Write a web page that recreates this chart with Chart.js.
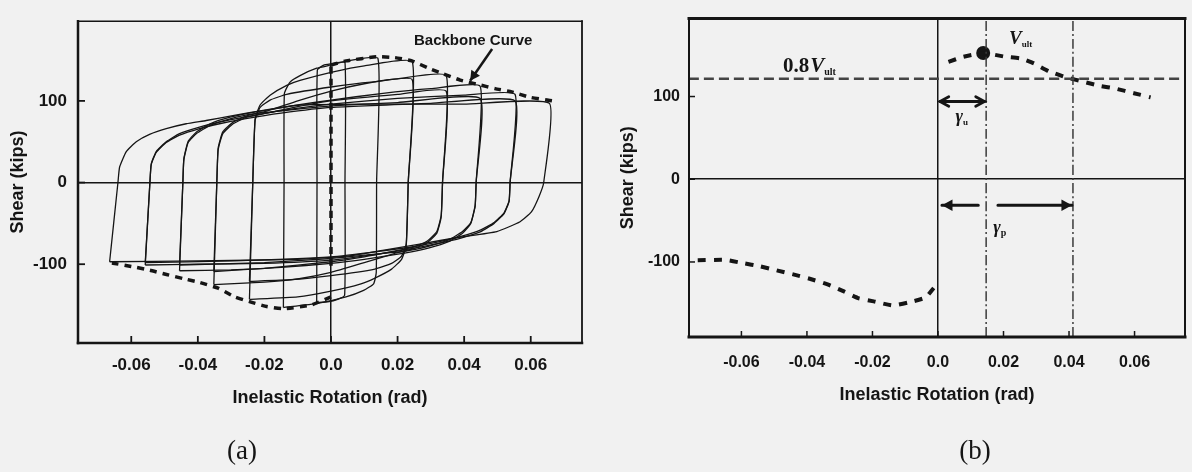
<!DOCTYPE html>
<html>
<head>
<meta charset="utf-8">
<script src="https://cdn.jsdelivr.net/npm/chart.js@4.4.1/dist/chart.umd.min.js"></script>
<style>
  html, body { margin: 0; padding: 0; background: #f1f1f1; }
  #wrap { position: relative; width: 1192px; height: 472px; overflow: hidden; }
  canvas { position: absolute; top: 0; }
  #chartA { left: 0; }
  #chartB { left: 600px; }
</style>
</head>
<body>
<div id="wrap">
  <canvas id="chartA" width="600" height="472"></canvas>
  <canvas id="chartB" width="592" height="472"></canvas>
</div>
<script>
// axes (both panels share the rotation axis)
const xRange = [-0.076, 0.0754];
const yRangeA = [-196.5, 197.6];
const yRangeB = [-190.7, 194.2];
const xTickValues = [-0.06, -0.04, -0.02, 0, 0.02, 0.04, 0.06];
const xTickLabels = ['-0.06', '-0.04', '-0.02', '0.0', '0.02', '0.04', '0.06'];
const yTickValues = [-100, 0, 100];
const yTickLabels = ['-100', '0', '100'];

// (a) hysteresis loops, one array per cycle: [rotation, shear]
const loop1 = [[-0.0043,-147],[-0.0042,0],[-0.0041,138],[-0.002,144],[0.001,146],[0.0042,147],
  [0.0042,0],[0.0041,-138],[0.002,-143],[-0.001,-146],[-0.0043,-147]];
const loop2 = [[-0.0143,-153],[-0.0141,0],[-0.014,109],[-0.0123,123],[-0.0093,131],[-0.0043,140],[0,144],[0.005,149],[0.0141,152],
  [0.0137,0],[0.0136,-110],[0.0128,-124],[0.0098,-132],[0.0045,-140],[-0.004,-148],[-0.0143,-153]];
const loop3 = [[-0.0245,-143],[-0.0235,0],[-0.0228,78],[-0.0213,95],[-0.0183,107],[-0.0133,119],[-0.0093,125],[0,135],[0.01,143],[0.0244,148],
  [0.0232,0],[0.0226,-77],[0.0212,-94],[0.0182,-106],[0.0132,-117],[0.009,-124],[0,-133],[-0.01,-140],[-0.0245,-143]];
const loop3b = [[-0.0245,-121],[-0.0235,0],[-0.0228,76],[-0.0213,92],[-0.0183,101],[-0.0133,108],[0,117],[0.012,123],[0.0244,126],
  [0.0232,0],[0.0226,-75],[0.0212,-90],[0.0182,-99],[0.0132,-106],[0,-114],[-0.012,-119],[-0.0245,-121]];
const loop4 = [[-0.0352,-125],[-0.0343,0],[-0.0339,42],[-0.0325,62],[-0.0294,74],[-0.0253,81.6],[-0.0193,87.5],[-0.01,100],[0,112],[0.01,121],[0.02,127],[0.0346,131],
  [0.0335,0],[0.0331,-42],[0.0318,-62],[0.0288,-74],[0.0248,-81],[0.019,-87],[0.01,-98],[0,-110],[-0.01,-118],[-0.02,-122],[-0.0352,-125]];
const loop4b = [[-0.0352,-109],[-0.0343,0],[-0.0339,40],[-0.0325,60],[-0.0294,72],[-0.0253,80],[-0.0193,85],[-0.01,93],[0,100],[0.02,108],[0.0346,112],
  [0.0335,0],[0.0331,-40],[0.0318,-60],[0.0288,-72],[0.0248,-79],[0.019,-84],[0.01,-91],[0,-97],[-0.02,-105],[-0.0352,-109]];
const loop5 = [[-0.0455,-108],[-0.0445,0],[-0.0442,29],[-0.0429,50.6],[-0.0404,62],[-0.0363,72],[-0.0303,80],[-0.0234,86],[-0.01,95],[0,101],[0.015,109],[0.03,115],[0.0448,118],
  [0.0436,0],[0.0433,-29],[0.042,-50],[0.0395,-62],[0.0355,-72],[0.0295,-80],[0.0225,-86],[0.01,-94],[0,-99],[-0.015,-104],[-0.03,-107],[-0.0455,-108]];
const loop5b = [[-0.0455,-101],[-0.0445,0],[-0.0442,28],[-0.0429,49],[-0.0404,60],[-0.0363,70],[-0.0303,78],[-0.0234,84],[-0.01,90],[0,94],[0.02,98],[0.0448,103],
  [0.0436,0],[0.0433,-28],[0.042,-49],[0.0395,-60],[0.0355,-70],[0.0295,-78],[0.0225,-84],[0.01,-89],[0,-93],[-0.02,-98],[-0.0455,-101]];
const loop6 = [[-0.0558,-101],[-0.0544,0],[-0.054,23],[-0.0525,38],[-0.0495,50],[-0.0455,60],[-0.0395,68],[-0.0335,74],[-0.026,80],[-0.015,88],[0,96],[0.02,103],[0.04,107],[0.0553,108],
  [0.0538,0],[0.0535,-23],[0.052,-38],[0.049,-50],[0.045,-60],[0.039,-68],[0.033,-74],[0.0255,-80],[0.015,-87],[0,-95],[-0.02,-99],[-0.04,-100],[-0.0558,-101]];
const loop6b = [[-0.0558,-98],[-0.0544,0],[-0.054,22],[-0.0525,37],[-0.0495,49],[-0.0455,58],[-0.0395,66],[-0.0335,72],[-0.026,78],[-0.015,85],[0,92],[0.03,97],[0.0553,100],
  [0.0538,0],[0.0535,-22],[0.052,-37],[0.049,-49],[0.045,-58],[0.039,-66],[0.033,-72],[0.0255,-78],[0.015,-84],[0,-91],[-0.03,-96],[-0.0558,-98]];
const loop7 = [[-0.0665,-97],[-0.064,0],[-0.0635,19],[-0.0615,38],[-0.0585,50],[-0.0545,59],[-0.0495,66],[-0.0435,72],[-0.0375,76],[-0.0295,82],[-0.0195,89],[-0.0093,95],[0.01,96],[0.04,96],[0.0656,97],
  [0.0639,0],[0.0625,-17],[0.0602,-36],[0.0568,-48],[0.0498,-60],[0.0385,-67],[0.0271,-75],[0.0155,-83],[0.005,-90],[-0.01,-94],[-0.04,-96],[-0.0665,-97]];
const loopsA = [loop1, loop2, loop3, loop3b, loop4, loop4b, loop5, loop5b, loop6, loop6b, loop7];

// (a) backbone curve
const backboneElasticA = [[0,-102],[0,144]];
const backbonePosA = [[0,144],[0.0045,149],[0.0137,154],[0.0192,153],[0.0243,149],[0.0293,140],[0.0338,133],[0.0388,125.5],
  [0.0443,120],[0.0493,115],[0.0543,111],[0.0598,104.4],[0.0649,101],[0.0665,100]];
const backboneNegA = [[0,-140],[-0.006,-150],[-0.0143,-154.5],[-0.0193,-151.8],[-0.0238,-146.7],[-0.0289,-140],[-0.0339,-129.4],
  [-0.0394,-122.4],[-0.0444,-117.6],[-0.0494,-112.6],[-0.0544,-107.4],[-0.06,-102.7],[-0.0655,-98.8],[-0.067,-98]];
const backboneNote = [0.0427, 173];
const backboneArrow = [0.0484, 163.5, 0.0418, 124.7];

// (b) backbone, ultimate shear and rotation limits
const backbonePosB = [[0.0032,142],[0.0077,148],[0.0138,152.6],[0.0207,148],[0.0253,146],[0.0293,140],[0.0338,130.6],[0.0393,123],
  [0.0443,118],[0.0493,113],[0.0543,109.5],[0.0598,104],[0.0649,99]];
const backboneNegB = [[-0.0013,-131.5],[-0.0038,-143],[-0.0088,-148.8],[-0.0138,-152.6],[-0.0196,-147.6],[-0.0244,-143.6],[-0.0289,-135.3],
  [-0.0339,-126.8],[-0.0389,-120.6],[-0.0439,-115.3],[-0.0494,-110],[-0.0544,-105.2],[-0.0595,-101.4],[-0.065,-97.5],[-0.0746,-98]];
const vultPoint = [0.0138, 152.6];
const vultLevel = 121.4;
const gammaU = 0.0147;
const gammaP = 0.0412;
const gammaUArrow = [0, 0.0142, 94];
const gammaPArrow = [0.0006, 0.0123, 0.0183, 0.0409, -31.4];
const noteVult08 = [-0.0473, 130];
const noteVult = [0.0217, 163];
const noteGammaU = [0.0072, 76];
const noteGammaP = [0.0187, -58];

const INK = '#151515';
Chart.defaults.font.family = "'Liberation Sans', Arial, sans-serif";
Chart.defaults.color = INK;

const toXY = pts => pts.map(([x, y]) => ({ x, y }));

function lineSet(pts, width, dash, color) {
  return {
    data: toXY(pts), showLine: true, borderColor: color || INK, borderWidth: width,
    borderDash: dash || [], pointRadius: 0, tension: 0.15, fill: false
  };
}

function buildScales(yRange, o) {
  const zeroGrid = {
    color: c => (c.tick && c.tick.value === 0) ? INK : 'rgba(0,0,0,0)',
    lineWidth: 1.5, drawTicks: false
  };
  return {
    x: {
      type: 'linear', min: xRange[0], max: xRange[1],
      border: { display: false }, grid: zeroGrid,
      afterBuildTicks: s => { s.ticks = xTickValues.map(v => ({ value: v })); },
      afterFit: s => { s.height = 70; },
      ticks: { padding: o.xPad, maxRotation: 0, autoSkip: false, font: { size: o.tickSize, weight: 'bold' },
        callback: (v, i) => xTickLabels[i] },
      title: { display: true, text: 'Inelastic Rotation (rad)', font: { size: 18, weight: 'bold' },
        padding: { top: 0, bottom: o.xTitlePad } }
    },
    y: {
      type: 'linear', min: yRange[0], max: yRange[1],
      border: { display: false }, grid: zeroGrid,
      afterBuildTicks: s => { s.ticks = yTickValues.map(v => ({ value: v })); },
      afterFit: s => { s.width = o.yWidth; },
      ticks: { padding: o.yPad, autoSkip: false, font: { size: o.tickSize, weight: 'bold' },
        callback: (v, i) => yTickLabels[i] },
      title: { display: true, text: 'Shear (kips)', font: { size: 18, weight: 'bold' },
        padding: { top: o.yTitlePad, bottom: 0 } }
    }
  };
}

// plot frame with inward tick marks
const framePlugin = {
  id: 'frame',
  afterDraw(chart, args, o) {
    const { ctx, chartArea: a, scales: { x, y } } = chart;
    const seg = (w, x1, y1, x2, y2) => { ctx.lineWidth = w; ctx.beginPath(); ctx.moveTo(x1, y1); ctx.lineTo(x2, y2); ctx.stroke(); };
    ctx.save();
    ctx.strokeStyle = INK;
    ctx.lineCap = 'square';
    seg(o.left, a.left, a.top, a.left, a.bottom);
    seg(o.bottom, a.left, a.bottom, a.right, a.bottom);
    seg(o.top, a.left, a.top, a.right, a.top);
    seg(o.right, a.right, a.top, a.right, a.bottom);
    ctx.lineCap = 'butt';
    xTickValues.forEach(v => { const p = x.getPixelForValue(v); seg(o.tickW, p, a.bottom, p, a.bottom - o.tick); });
    yTickValues.forEach(v => { const p = y.getPixelForValue(v); seg(o.tickW, a.left, p, a.left + o.tick, p); });
    ctx.restore();
  }
};

function arrowHead(ctx, x1, y1, x2, y2, size, filled) {
  const ang = Math.atan2(y2 - y1, x2 - x1);
  ctx.beginPath();
  ctx.moveTo(x2 - size * Math.cos(ang - 0.5), y2 - size * Math.sin(ang - 0.5));
  ctx.lineTo(x2, y2);
  ctx.lineTo(x2 - size * Math.cos(ang + 0.5), y2 - size * Math.sin(ang + 0.5));
  if (filled) { ctx.closePath(); ctx.fill(); } else ctx.stroke();
}

function subText(ctx, main, sub, x, y, mainFont, subFont, drop) {
  ctx.font = mainFont;
  ctx.fillText(main, x, y);
  const w = ctx.measureText(main).width;
  ctx.font = subFont;
  ctx.fillText(sub, x + w, y + drop);
}

const notesA = {
  id: 'notesA',
  afterDraw(chart) {
    const { ctx, scales: { x, y } } = chart;
    ctx.save();
    ctx.fillStyle = INK; ctx.strokeStyle = INK;
    ctx.font = "bold 15px 'Liberation Sans'";
    ctx.textAlign = 'center'; ctx.textBaseline = 'middle';
    ctx.fillText('Backbone Curve', x.getPixelForValue(backboneNote[0]), y.getPixelForValue(backboneNote[1]));
    const x1 = x.getPixelForValue(backboneArrow[0]), y1 = y.getPixelForValue(backboneArrow[1]);
    const x2 = x.getPixelForValue(backboneArrow[2]), y2 = y.getPixelForValue(backboneArrow[3]);
    ctx.lineWidth = 2.5;
    ctx.beginPath(); ctx.moveTo(x1, y1); ctx.lineTo(x2, y2); ctx.stroke();
    arrowHead(ctx, x1, y1, x2, y2, 11, true);
    ctx.font = "27px 'Liberation Serif'";
    ctx.fillText('(a)', 242, 452);
    ctx.restore();
  }
};

const notesB = {
  id: 'notesB',
  afterDraw(chart) {
    const { ctx, scales: { x, y } } = chart;
    const px = v => x.getPixelForValue(v), py = v => y.getPixelForValue(v);
    ctx.save();
    ctx.fillStyle = INK; ctx.strokeStyle = INK;
    ctx.textAlign = 'left'; ctx.textBaseline = 'alphabetic';
    // 0.8 Vult label
    ctx.font = "bold 21px 'Liberation Serif'";
    ctx.fillText('0.8', px(noteVult08[0]), py(noteVult08[1]));
    const w08 = ctx.measureText('0.8').width;
    subText(ctx, 'V', 'ult', px(noteVult08[0]) + w08 + 1, py(noteVult08[1]),
      "bold italic 21px 'Liberation Serif'", "bold 10px 'Liberation Serif'", 3);
    subText(ctx, 'V', 'ult', px(noteVult[0]), py(noteVult[1]),
      "bold italic 19px 'Liberation Serif'", "bold 9px 'Liberation Serif'", 3);
    // gamma_u double arrow
    ctx.lineWidth = 2.8; ctx.lineCap = 'round';
    const ay = py(gammaUArrow[2]);
    const ax1 = px(gammaUArrow[0]) + 2, ax2 = px(gammaUArrow[1]);
    ctx.beginPath(); ctx.moveTo(ax1, ay); ctx.lineTo(ax2, ay); ctx.stroke();
    arrowHead(ctx, ax2, ay, ax1, ay, 10, false);
    arrowHead(ctx, ax1, ay, ax2, ay, 10, false);
    subText(ctx, 'γ', 'u', px(noteGammaU[0]) - 6, py(noteGammaU[1]) + 6,
      "bold italic 18px 'Liberation Serif'", "bold 9px 'Liberation Serif'", 3);
    // gamma_p arrow
    const by = py(gammaPArrow[4]);
    const b1 = px(gammaPArrow[0]) + 2, b2 = px(gammaPArrow[1]), b3 = px(gammaPArrow[2]), b4 = px(gammaPArrow[3]);
    ctx.lineWidth = 3;
    ctx.beginPath(); ctx.moveTo(b1, by); ctx.lineTo(b2, by); ctx.moveTo(b3, by); ctx.lineTo(b4, by); ctx.stroke();
    arrowHead(ctx, b2, by, b1, by, 12, true);
    arrowHead(ctx, b3, by, b4, by, 12, true);
    subText(ctx, 'γ', 'p', px(noteGammaP[0]) - 6, py(noteGammaP[1]) + 6,
      "bold italic 18px 'Liberation Serif'", "bold 10px 'Liberation Serif'", 3);
    ctx.textAlign = 'center'; ctx.textBaseline = 'middle';
    ctx.font = "27px 'Liberation Serif'";
    ctx.fillText('(b)', 375, 452);
    ctx.restore();
  }
};

new Chart(document.getElementById('chartA'), {
  type: 'scatter',
  data: {
    datasets: [
      ...loopsA.map(l => lineSet(l, 1.3)),
      lineSet(backboneElasticA, 3.5, [7, 5]),
      lineSet(backbonePosA, 3.5, [7, 6]),
      lineSet(backboneNegA, 3.5, [7, 6])
    ]
  },
  options: {
    responsive: false, animation: false,
    layout: { padding: { left: 0, top: 8, right: 18, bottom: 59 } },
    plugins: {
      legend: { display: false }, tooltip: { enabled: false },
      frame: { left: 2.5, bottom: 2.5, top: 1.5, right: 1.8, tick: 7, tickW: 1.8 }
    },
    scales: buildScales(yRangeA, { tickSize: 17, xPad: 12, yPad: 11, yWidth: 78, xTitlePad: 4, yTitlePad: 7 })
  },
  plugins: [framePlugin, notesA]
});

new Chart(document.getElementById('chartB'), {
  type: 'scatter',
  data: {
    datasets: [
      lineSet([[xRange[0], vultLevel], [xRange[1], vultLevel]], 2.5, [10, 5], '#444'),
      lineSet([[gammaU, yRangeB[0]], [gammaU, yRangeB[1]]], 1.5, [10, 3, 2, 3], '#3a3a3a'),
      lineSet([[gammaP, yRangeB[0]], [gammaP, yRangeB[1]]], 1.5, [10, 3, 2, 3], '#3a3a3a'),
      lineSet(backbonePosB, 4, [8, 8]),
      lineSet(backboneNegB, 4, [8, 8]),
      { data: toXY([vultPoint]), pointRadius: 7, pointBackgroundColor: INK, pointBorderWidth: 0, showLine: false }
    ]
  },
  options: {
    responsive: false, animation: false,
    layout: { padding: { left: 0, top: 6, right: 1, bottom: 65 } },
    plugins: {
      legend: { display: false }, tooltip: { enabled: false },
      frame: { left: 2, bottom: 3, top: 3, right: 2, tick: 6, tickW: 1.5 }
    },
    scales: buildScales(yRangeB, { tickSize: 16, xPad: 16, yPad: 9, yWidth: 89, xTitlePad: 1, yTitlePad: 17 })
  },
  plugins: [framePlugin, notesB]
});
</script>
</body>
</html>
